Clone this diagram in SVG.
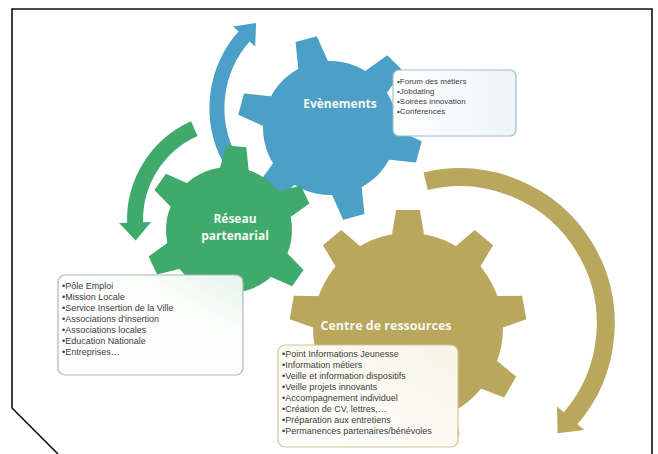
<svg xmlns="http://www.w3.org/2000/svg" width="658" height="454" viewBox="0 0 658 454">
<style>
.lbl{font-family:"Open Sans","Liberation Sans",sans-serif;font-weight:bold;fill:#f6f8f2;text-anchor:middle}
.item{font-family:"Liberation Sans",Arial,sans-serif;font-size:9px;fill:#3c3c3c}
.small{font-size:8px}
.box{stroke-width:1.2}
</style>
<defs>
<marker id="hBlue" markerUnits="userSpaceOnUse" markerWidth="40" markerHeight="40" viewBox="-20 -20 40 40" refX="0" refY="0" orient="auto" overflow="visible"><path d="M-1,-15 L17,0 L-1,15 Z" fill="#4c9fc6"/></marker>
<marker id="hGreen" markerUnits="userSpaceOnUse" markerWidth="40" markerHeight="40" viewBox="-20 -20 40 40" refX="0" refY="0" orient="auto" overflow="visible"><path d="M-1,-16 L17,0 L-1,16 Z" fill="#3faa6b"/></marker>
<marker id="hTan" markerUnits="userSpaceOnUse" markerWidth="40" markerHeight="40" viewBox="-20 -20 40 40" refX="0" refY="0" orient="auto" overflow="visible"><path d="M-1,-18 L19,0 L-1,18 Z" fill="#b8a75c"/></marker>
<path id="toothS" d="M58,-15 L84,-10 L84,10 L58,15Z"/>
<path id="toothB" d="M61,-16 L92,-11 L92,11 L61,16Z"/>
<path id="toothL" d="M87,-17 L118,-12 L118,12 L87,17Z"/>
<linearGradient id="gBlue" x1="0" y1="0" x2="1" y2="0"><stop offset="0" stop-color="#ffffff"/><stop offset="1" stop-color="#edf5f9"/></linearGradient>
<linearGradient id="gGreen" x1="0" y1="1" x2="1" y2="0"><stop offset="0" stop-color="#ffffff"/><stop offset="0.7" stop-color="#fbfdfb"/><stop offset="1" stop-color="#e6f4ec"/></linearGradient>
<linearGradient id="gTan" x1="0" y1="1" x2="1" y2="0"><stop offset="0" stop-color="#ffffff"/><stop offset="1" stop-color="#f8f5e6"/></linearGradient>
</defs>

<path id="frame" d="M58,454 L12,408 L12,9 L652,9 L652,454" fill="none" stroke="#111" stroke-width="1.6"/>

<g id="connectors" fill="none" stroke-linecap="butt">
<path d="M229.6,158.7 A108,108 0 0 1 244.7,35.7" stroke="#4c9fc6" stroke-width="15" marker-end="url(#hBlue)"/>
<path d="M194.3,128.6 A100,100 0 0 0 135.1,223.5" stroke="#3faa6b" stroke-width="16" marker-end="url(#hGreen)"/>
<path d="M425.7,181.3 A146,146 0 0 1 570,419" stroke="#b8a75c" stroke-width="18" marker-end="url(#hTan)"/>
</g>

<g id="gear-evenements" fill="#4c9fc6">
<g transform="translate(330,128)">
<circle r="67"/>
<use href="#toothB" transform="rotate(15)"/>
<use href="#toothB" transform="rotate(75)"/>
<use href="#toothB" transform="rotate(135)"/>
<use href="#toothB" transform="rotate(195)"/>
<use href="#toothB" transform="rotate(255)"/>
<use href="#toothB" transform="rotate(315)"/>
</g>
<text class="lbl" x="340" y="108" font-size="12">Evènements</text>
</g>

<g id="gear-reseau" fill="#3faa6b">
<g transform="translate(229,230)">
<circle r="63"/>
<use href="#toothS" transform="rotate(35)"/>
<use href="#toothS" transform="rotate(95)"/>
<use href="#toothS" transform="rotate(155)"/>
<use href="#toothS" transform="rotate(215)"/>
<use href="#toothS" transform="rotate(275)"/>
<use href="#toothS" transform="rotate(335)"/>
</g>
<text class="lbl" x="235" y="223" font-size="12">Réseau</text>
<text class="lbl" x="235" y="240" font-size="12">partenarial</text>
</g>

<g id="gear-centre" fill="#b8a75c">
<g transform="translate(408,328)">
<circle r="95"/>
<use href="#toothL" transform="rotate(270)"/>
<use href="#toothL" transform="rotate(310)"/>
<use href="#toothL" transform="rotate(350)"/>
<use href="#toothL" transform="rotate(30)"/>
<use href="#toothL" transform="rotate(70)"/>
<use href="#toothL" transform="rotate(110)"/>
<use href="#toothL" transform="rotate(150)"/>
<use href="#toothL" transform="rotate(190)"/>
<use href="#toothL" transform="rotate(230)"/>
</g>
<text class="lbl" x="386" y="330" font-size="12.5">Centre de ressources</text>
</g>

<g id="box-evenements">
<rect class="box" x="393" y="70" width="123" height="66" rx="6" fill="url(#gBlue)" stroke="#9cbfcd"/>
<text class="item small" x="397" y="84">•Forum des métiers</text>
<text class="item small" x="397" y="94">•Jobdating</text>
<text class="item small" x="397" y="104">•Soirées innovation</text>
<text class="item small" x="397" y="114">•Conférences</text>
</g>

<g id="box-reseau">
<rect class="box" x="58" y="275" width="185" height="100" rx="7" fill="url(#gGreen)" stroke="#a9bcb0"/>
<text class="item" x="62" y="289">•Pôle Emploi</text>
<text class="item" x="62" y="300">•Mission Locale</text>
<text class="item" x="62" y="311">•Service Insertion de la Ville</text>
<text class="item" x="62" y="322">•Associations d'insertion</text>
<text class="item" x="62" y="333">•Associations locales</text>
<text class="item" x="62" y="344">•Education Nationale</text>
<text class="item" x="62" y="355">•Entreprises…</text>
</g>

<g id="box-centre">
<rect class="box" x="278" y="345" width="180" height="102" rx="7" fill="url(#gTan)" stroke="#cdc59a"/>
<text class="item" x="282" y="357">•Point Informations Jeunesse</text>
<text class="item" x="282" y="368">•Information métiers</text>
<text class="item" x="282" y="379">•Veille et information dispositifs</text>
<text class="item" x="282" y="390">•Veille projets innovants</text>
<text class="item" x="282" y="401">•Accompagnement individuel</text>
<text class="item" x="282" y="412">•Création de CV, lettres,…</text>
<text class="item" x="282" y="423">•Préparation aux entretiens</text>
<text class="item" x="282" y="434">•Permanences partenaires/bénévoles</text>
</g>
</svg>
